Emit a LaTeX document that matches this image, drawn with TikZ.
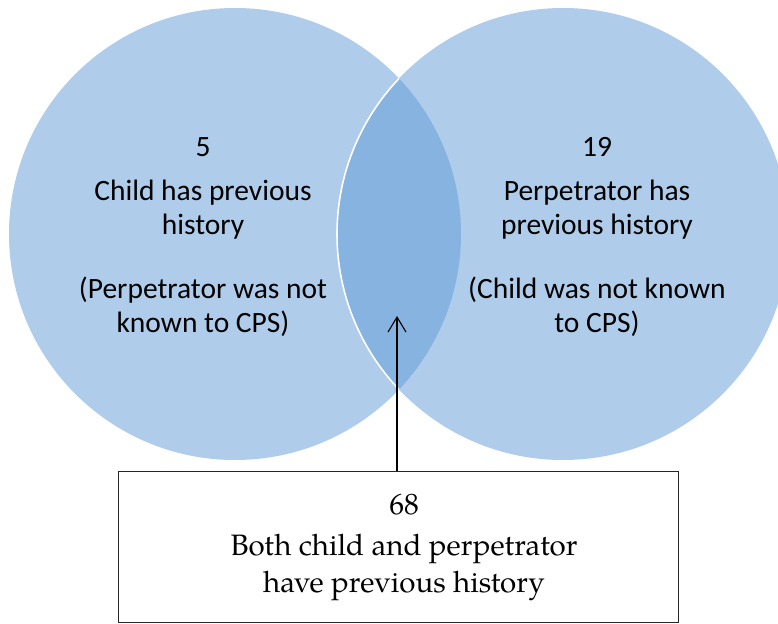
\documentclass[tikz,border=0pt]{standalone}
\usepackage{fontspec}
\setmainfont{Carlito}
\newfontfamily\boxfont{TeX Gyre Pagella}
\usetikzlibrary{arrows.meta}
\definecolor{circfill}{HTML}{AFCDEA}
\definecolor{lensfill}{HTML}{86B3DF}
\tikzset{
  vtext/.style={align=center, inner sep=0pt, anchor=north, font=\fontsize{29.5}{34}\selectfont},
  btext/.style={align=center, inner sep=0pt, anchor=north, font=\boxfont\fontsize{29.5}{37}\selectfont},
  outbox/.style={draw=black!85, line width=1pt, inner sep=0pt, anchor=north west, minimum width=560pt, minimum height=151pt},
  pointer/.style={draw=black, line width=1.1pt, -{Straight Barb[length=15pt,width=18pt,line width=1.1pt]}}
}
\begin{document}
\begin{tikzpicture}[x=1pt,y=-1pt]
\useasboundingbox (0,0) rectangle (778,623);
% circles
\fill[circfill] (235,234) circle[radius=226pt];
\fill[circfill] (563,234) circle[radius=226pt];
\begin{scope}
  \clip (235,234) circle[radius=226pt];
  \fill[lensfill] (563,234) circle[radius=226pt];
  \draw[white, line width=1.6pt] (563,234) circle[radius=226pt];
\end{scope}
% texts
\node[vtext] (lt) at (203,137.5) {5\\[10pt]Child has previous\\history\\[30pt](Perpetrator was not\\known to CPS)};
\node[vtext] (rt) at (597,137.5) {19\\[10pt]Perpetrator has\\previous history\\[30pt](Child was not known\\to CPS)};
% box
\node[outbox] (box) at (118,471) {};
\node[btext] (bt) at (404,494) {68\\[4pt]Both child and perpetrator\\have previous history};
\coordinate (tip) at (397,316);
\draw[pointer] (box.north -| tip) -- (tip);
\end{tikzpicture}
\end{document}
